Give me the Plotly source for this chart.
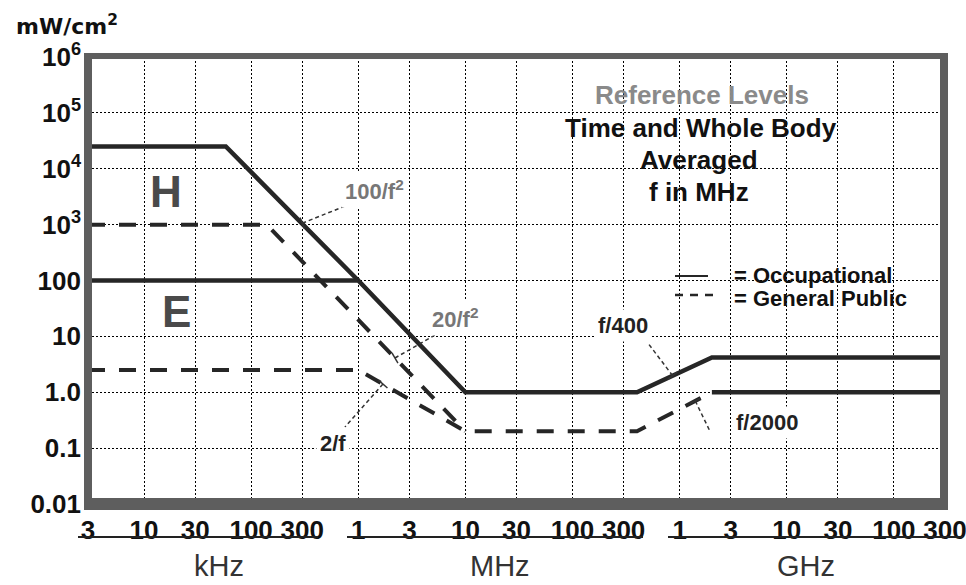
import math
import plotly.graph_objects as go

# ---------------- data (frequency in MHz, power density in mW/cm^2) ----------------
x_tick_vals = [0.003, 0.01, 0.03, 0.1, 0.3, 1, 3, 10, 30, 100, 300,
               1000, 3000, 10000, 30000, 100000, 300000]
x_tick_text = ["3", "10", "30", "100", "300", "1", "3", "10", "30", "100", "300",
               "1", "3", "10", "30", "100", "300"]
y_tick_vals = [0.01, 0.1, 1, 10, 100, 1e3, 1e4, 1e5, 1e6]
y_tick_text = ["0.01", "0.1", "1.0", "10", "100",
               "10<sup>3</sup>", "10<sup>4</sup>", "10<sup>5</sup>", "10<sup>6</sup>"]

occ_h_freq = [0.003, 0.058, 1.0]
occ_h_pd = [25000, 25000, 100]
occ_e_freq = [0.003, 1.0, 10, 400, 2000, 300000]
occ_e_pd = [100, 100, 1.0, 1.0, 4.2, 4.2]
pub_h_freq = [0.003, 0.14, 10]
pub_h_pd = [1000, 1000, 0.2]
pub_e_freq = [0.003, 1.0, 10, 400, 2000]
pub_e_pd = [2.5, 2.5, 0.2, 0.2, 1.0]
pub_hi_freq = [2000, 300000]
pub_hi_pd = [1.0, 1.0]

X_MIN, X_MAX = math.log10(0.003), math.log10(300000)
Y_MIN, Y_MAX = -2, 6

SANS = "Liberation Sans, Arial"
SOLID = "#262626"

fig = go.Figure()
line_solid = dict(color=SOLID, width=4.5)
line_dash = dict(color=SOLID, width=4, dash="17px,14px")
fig.add_trace(go.Scatter(x=occ_h_freq, y=occ_h_pd, mode="lines", line=line_solid, name="Occupational H"))
fig.add_trace(go.Scatter(x=occ_e_freq, y=occ_e_pd, mode="lines", line=line_solid, name="Occupational E"))
fig.add_trace(go.Scatter(x=pub_h_freq, y=pub_h_pd, mode="lines", line=line_dash, name="General Public H"))
fig.add_trace(go.Scatter(x=pub_e_freq, y=pub_e_pd, mode="lines", line=line_dash, name="General Public E"))
fig.add_trace(go.Scatter(x=pub_hi_freq, y=pub_hi_pd, mode="lines", line=line_solid, name="General Public"))

# ---------------- helpers for decoration placement ----------------
L, T, W, H = 88, 57, 857, 447


def px(xp):
    return (xp - L) / W


def py(yp):
    return (T + H - yp) / H


def fx(f):
    return (math.log10(f) - X_MIN) / (X_MAX - X_MIN)


def vy(v):
    return (math.log10(v) - Y_MIN) / (Y_MAX - Y_MIN)


shapes = []
# white masks between gridlines and traces (text boxes)
for x0, x1, y0, y1 in [(552, 850, 74, 208), (716, 930, 257, 317)]:
    shapes.append(dict(type="rect", xref="paper", yref="paper", layer="between",
                       x0=px(x0), x1=px(x1), y0=py(y1), y1=py(y0),
                       fillcolor="white", line=dict(width=0)))
# legend swatches
shapes.append(dict(type="line", xref="paper", yref="paper", x0=px(675), x1=px(708),
                   y0=py(276), y1=py(276), line=dict(color=SOLID, width=2)))
shapes.append(dict(type="line", xref="paper", yref="paper", x0=px(675), x1=px(713),
                   y0=py(295), y1=py(295), line=dict(color=SOLID, width=2.5, dash="8px,7px")))
# frame
FRAME = "#5e5e5e"
shapes.append(dict(type="line", xref="paper", yref="paper", x0=px(88), x1=px(88),
                   y0=py(510), y1=py(53), line=dict(color=FRAME, width=8)))
shapes.append(dict(type="line", xref="paper", yref="paper", x0=px(944), x1=px(944),
                   y0=py(510), y1=py(53), line=dict(color=FRAME, width=8)))
shapes.append(dict(type="line", xref="paper", yref="paper", x0=px(84), x1=px(948),
                   y0=py(56), y1=py(56), line=dict(color=FRAME, width=6)))
shapes.append(dict(type="line", xref="paper", yref="paper", x0=px(84), x1=px(948),
                   y0=py(504), y1=py(504), line=dict(color=FRAME, width=12)))
# unit underlines
for x0, x1 in [(78, 318), (347, 643), (668, 963)]:
    shapes.append(dict(type="line", xref="paper", yref="paper", x0=px(x0), x1=px(x1),
                       y0=py(537), y1=py(537), line=dict(color="#222", width=2)))

# leader lines: head on the curve (frequency, value), tail offset in pixels
leaders = [(0.3, 1060, 45, -18), (2.2, 4.1, 40, -23), (1.7, 1.4, -38, 43),
           (860, 1.98, -25, -33), (1400, 0.7, 15, 31)]
for f, v, ax, ay in leaders:
    hx, hy = fx(f), vy(v)
    shapes.append(dict(type="line", xref="paper", yref="paper",
                       x0=hx, y0=hy, x1=hx + ax / W, y1=hy - ay / H,
                       line=dict(color="#333", width=1.5, dash="4px,3px")))
    # small cross tick at the head
    nx, ny = -ay, ax
    n = math.hypot(nx, ny)
    nx, ny = nx / n * 6, ny / n * 6
    shapes.append(dict(type="line", xref="paper", yref="paper",
                       x0=hx - nx / W, y0=hy + ny / H, x1=hx + nx / W, y1=hy - ny / H,
                       line=dict(color="#333", width=1.5)))

ann = []
# title block
ann.append(dict(text="<b>Reference Levels</b>", x=px(702), y=py(95), font=dict(family=SANS, size=26, color="#8a8a8a")))
ann.append(dict(text="<b>Time and Whole Body</b>", x=px(701), y=py(128), font=dict(family=SANS, size=26, color="#111")))
ann.append(dict(text="<b>Averaged</b>", x=px(699), y=py(160), font=dict(family=SANS, size=26, color="#111")))
ann.append(dict(text="<b>f in MHz</b>", x=px(699), y=py(192), font=dict(family=SANS, size=26, color="#111")))
# legend text
ann.append(dict(text="<b>= Occupational</b>", x=px(732), y=py(275), xanchor="left", font=dict(family=SANS, size=22, color="#111")))
ann.append(dict(text="<b>= General Public</b>", x=px(732), y=py(298), xanchor="left", font=dict(family=SANS, size=22, color="#111")))
# big field letters
ann.append(dict(text="<b>H</b>", x=px(166), y=py(191), font=dict(family=SANS, size=44, color="#4a4a4a")))
ann.append(dict(text="<b>E</b>", x=px(176), y=py(311), font=dict(family=SANS, size=44, color="#4a4a4a")))
# units
ann.append(dict(text="kHz", x=px(219), y=py(566), font=dict(family=SANS, size=29, color="#333")))
ann.append(dict(text="MHz", x=px(500), y=py(566), font=dict(family=SANS, size=29, color="#333")))
ann.append(dict(text="GHz", x=px(806), y=py(566), font=dict(family=SANS, size=29, color="#333")))
# y-axis unit
ann.append(dict(text="<b>mW/cm<sup>2</sup></b>", x=px(67), y=py(25), font=dict(family="DejaVu Sans", size=22, color="#111")))
# formula labels
labels = [("<b>100/f<sup>2</sup></b>", 374, 190, "#777"),
          ("<b>20/f<sup>2</sup></b>", 455, 318, "#777"),
          ("<b>2/f</b>", 333, 443, "#222"),
          ("<b>f/400</b>", 623, 325, "#222"),
          ("<b>f/2000</b>", 767, 422, "#222")]
for txt, xp, yp, col in labels:
    ann.append(dict(text=txt, x=px(xp), y=py(yp), bgcolor="white", borderpad=3,
                    font=dict(family=SANS, size=22, color=col)))
for a in ann:
    a.update(xref="paper", yref="paper", showarrow=False)
    a.setdefault("xanchor", "center")
    a.setdefault("yanchor", "middle")

axis_common = dict(type="log", showgrid=True, gridcolor="#000", gridwidth=1,
                   griddash="2px,2px", zeroline=False, showline=False, ticks="",
                   automargin=False, ticklabeloverflow="allow")
fig.update_layout(
    width=966, height=585,
    margin=dict(l=L, r=966 - L - W, t=T, b=585 - T - H),
    paper_bgcolor="white", plot_bgcolor="white", showlegend=False,
    xaxis=dict(range=[X_MIN, X_MAX], tickvals=x_tick_vals,
               ticktext=["<b>%s</b>" % t for t in x_tick_text],
               tickfont=dict(family=SANS, size=26, color="#111"), tickangle=0,
               ticklabelstandoff=8, **axis_common),
    yaxis=dict(range=[Y_MIN, Y_MAX], tickvals=y_tick_vals,
               ticktext=["<b>%s</b>" % t for t in y_tick_text],
               tickfont=dict(family=SANS, size=26, color="#111"),
               ticklabelstandoff=6, **axis_common),
    shapes=shapes, annotations=ann,
)
fig.write_html("out.html", config={"displayModeBar": False},
               post_script="document.body.style.margin='0';document.body.style.overflow='hidden';")
